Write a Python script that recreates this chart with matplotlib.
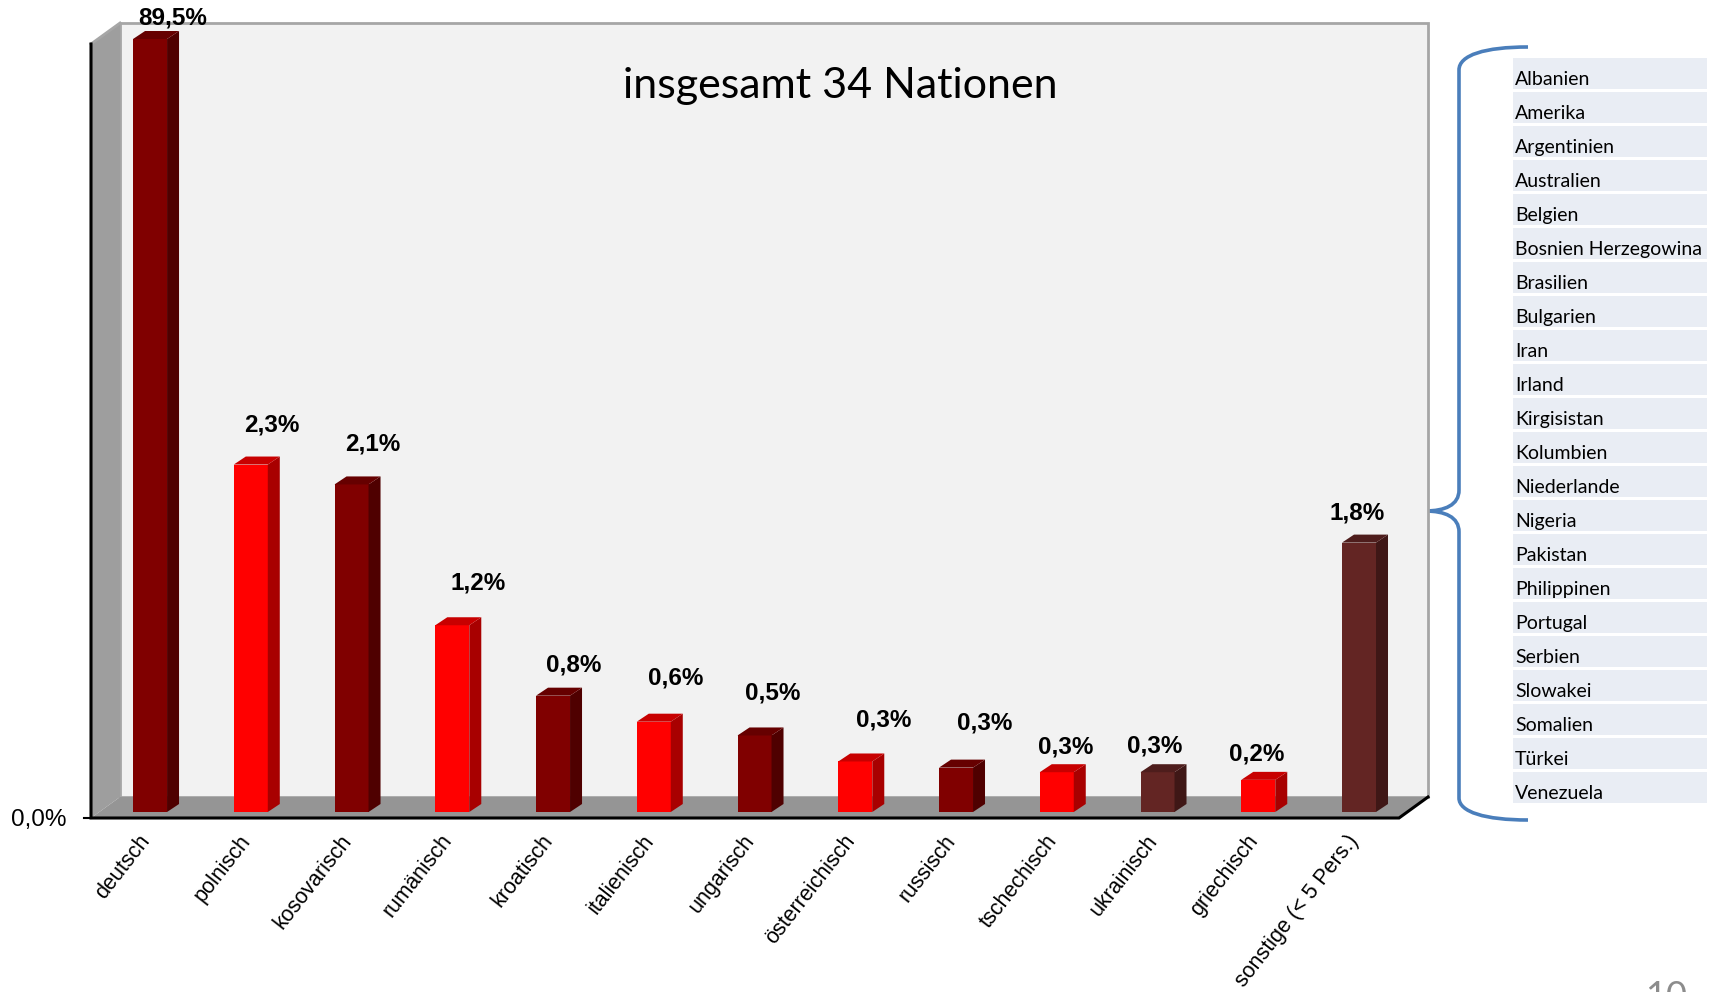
import matplotlib
matplotlib.use("Agg")
import matplotlib.pyplot as plt
from matplotlib.patches import Polygon, Rectangle, PathPatch
from matplotlib.path import Path

# data (share of persons by nationality, in %)
categories = ["deutsch", "polnisch", "kosovarisch", "rumänisch", "kroatisch",
              "italienisch", "ungarisch", "österreichisch", "russisch",
              "tschechisch", "ukrainisch", "griechisch", "sonstige (< 5 Pers.)"]
shares = [89.5, 2.27, 2.14, 1.22, 0.76, 0.59, 0.50, 0.33, 0.29, 0.26, 0.26, 0.21, 1.76]
others = ["Albanien", "Amerika", "Argentinien", "Australien", "Belgien",
          "Bosnien Herzegowina", "Brasilien", "Bulgarien", "Iran", "Irland",
          "Kirgisistan", "Kolumbien", "Niederlande", "Nigeria", "Pakistan",
          "Philippinen", "Portugal", "Serbien", "Slowakei", "Somalien",
          "Türkei", "Venezuela"]
title = "insgesamt 34 Nationen"

# bar colours (front, side, top)
DARK = ("#800000", "#4f0000", "#660000")
RED = ("#ff0000", "#a80000", "#c80000")
BROWN = ("#632523", "#3f1716", "#4e1d1c")
bar_styles = [DARK, RED, DARK, RED, DARK, RED, DARK, RED, DARK, RED, BROWN, RED, BROWN]
# label nudges (pixels) relative to bar top
lab_dx = [23, 21, 21, 26, 21, 22, 18, 28, 29, 9, -3, -2, -2]
lab_dy = [21, 40, 40, 42, 31, 44, 42, 41, 45, 25, 26, 26, 30]

W, H = 1713, 992
fig = plt.figure(figsize=(W / 100, H / 100), dpi=100)

ov = fig.add_axes([0, 0, 1, 1])
ov.set_xlim(0, W)
ov.set_ylim(H, 0)
ov.axis("off")

ax = fig.add_axes([91 / W, (H - 812) / H, 1308 / W, 773 / H])
ax.set_xlim(-0.586, 12.397)
ax.set_ylim(0, 5.05)
ax.axis("off")
x0, x1 = ax.get_xlim()
ymax = ax.get_ylim()[1]
px_x = 1308 / (x1 - x0)
px_y = 773 / ymax
dx = lambda p: p / px_x
dy = lambda p: p / px_y

# 3d box: floor, left wall, back wall
yff = -dy(6)
yfb = yff + dy(21)
wdx = dx(29)
ybt = dy(812 - 23)
ax.add_patch(Polygon([(x0 + wdx, yfb), (x0 + wdx, ybt), (x1 + wdx, ybt), (x1 + wdx, yfb)],
                     closed=True, facecolor="#f2f2f2", edgecolor="#a6a6a6", lw=2,
                     clip_on=False, zorder=1))
ax.add_patch(Polygon([(x0, yff), (x0, ybt - dy(21)), (x0 + wdx, ybt), (x0 + wdx, yfb)],
                     closed=True, facecolor="#9e9e9e", edgecolor="none",
                     clip_on=False, zorder=1))
ax.add_patch(Polygon([(x0, yff), (x1, yff), (x1 + wdx, yfb), (x0 + wdx, yfb)],
                     closed=True, facecolor="#959595", edgecolor="none",
                     clip_on=False, zorder=1.5))
ax.plot([x0, x0 + wdx], [ybt - dy(21), ybt], color="#a6a6a6", lw=2, clip_on=False, zorder=2)
ax.plot([x0, x0, x1, x1 + wdx], [ybt - dy(21), yff, yff, yfb], color="black", lw=2.2,
        clip_on=False, zorder=2, solid_joinstyle="miter")
ax.plot([x0 - dx(7), x0], [yff, yff], color="black", lw=1.5, clip_on=False, zorder=2)
ax.annotate("0,0%", xy=(x0, yff), xytext=(-24, -2), textcoords="offset pixels",
            ha="right", va="center", fontsize=17.5, family="Liberation Sans",
            annotation_clip=False)

# bars
bw = dx(34)
bdx, bdy = dx(12), dy(8)
for i, (v, st) in enumerate(zip(shares, bar_styles)):
    h = min(v, ymax)
    ax.bar(i, h, width=bw, color=st[0], linewidth=0, zorder=3, clip_on=False)
    xl, xr = i - bw / 2, i + bw / 2
    ax.add_patch(Polygon([(xr, 0), (xr + bdx, bdy), (xr + bdx, h + bdy), (xr, h)],
                         closed=True, facecolor=st[1], edgecolor="none", zorder=3, clip_on=False))
    ax.add_patch(Polygon([(xl, h), (xr, h), (xr + bdx, h + bdy), (xl + bdx, h + bdy)],
                         closed=True, facecolor=st[2], edgecolor="none", zorder=3, clip_on=False))
    lab = f"{v:.1f}".replace(".", ",") + "%"
    ax.annotate(lab, xy=(i, h), xytext=(lab_dx[i], lab_dy[i]), textcoords="offset pixels",
                ha="center", va="center", fontsize=17.5, fontweight="bold",
                family="Liberation Sans", annotation_clip=False, zorder=5)
    ax.annotate(categories[i], xy=(i, yff), xytext=(-4, -19), textcoords="offset pixels",
                ha="right", va="center", rotation=52, rotation_mode="anchor",
                fontsize=15.5, family="Liberation Sans", annotation_clip=False)

# title sits on the back wall, so draw it in the chart axes
ax.text(840, 86, title, transform=ov.transData, ha="center", va="center",
        fontsize=31, family="Lato", zorder=10)

# list of the other nations
for k, name in enumerate(others):
    top = 58 + 34 * k
    ov.add_patch(Rectangle((1513, top), 194, 31, facecolor="#e9edf4", edgecolor="none"))
    ov.text(1515, top + 27, name, ha="left", va="baseline", fontsize=14, family="Lato")

# curly bracket pointing at "sonstige"
verts = [(1528, 47), (1485, 47), (1459, 55), (1459, 70),
         (1459, 490),
         (1459, 505), (1445, 511), (1425, 511),
         (1390, 511),
         (1425, 511),
         (1445, 511), (1459, 517), (1459, 532),
         (1459, 798),
         (1459, 812), (1485, 820), (1528, 820)]
codes = [Path.MOVETO, Path.CURVE4, Path.CURVE4, Path.CURVE4,
         Path.LINETO,
         Path.CURVE4, Path.CURVE4, Path.CURVE4,
         Path.LINETO,
         Path.MOVETO,
         Path.CURVE4, Path.CURVE4, Path.CURVE4,
         Path.LINETO,
         Path.CURVE4, Path.CURVE4, Path.CURVE4]
ov.add_patch(PathPatch(Path(verts, codes), fill=False, edgecolor="#4a7ebb", lw=2.6))

ov.text(1666, 980, "10", ha="center", va="top", fontsize=26, color="#8c8c8c", family="Lato")

fig.savefig("out.png", dpi=100)
